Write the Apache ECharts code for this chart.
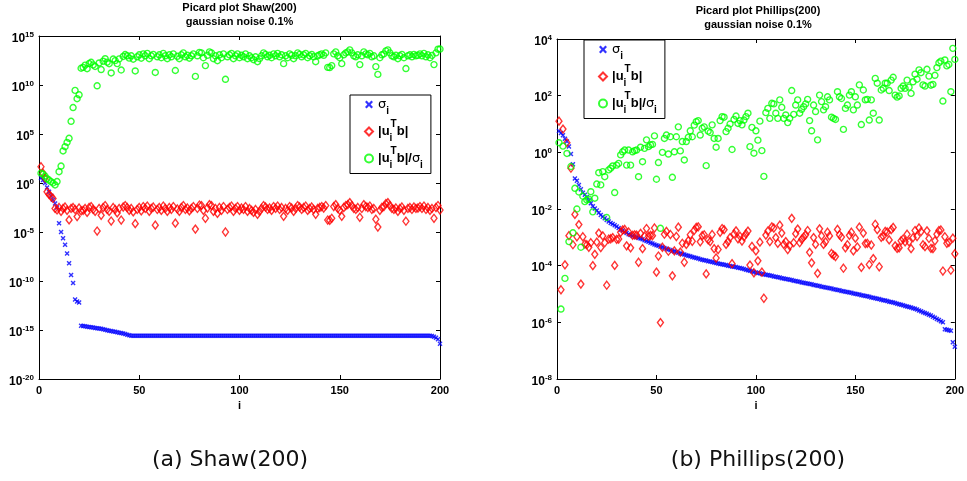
<!DOCTYPE html>
<html><head><meta charset="utf-8">
<script src="https://cdn.jsdelivr.net/npm/echarts@6/dist/echarts.min.js"></script>
<style>html,body{margin:0;padding:0;background:#fff}#c{width:967px;height:481px}</style>
</head><body><div id="c"></div><script>
// ---- data (log10 of the plotted values, index i = 1..200) ----
const shawSigmaLog = [
0.5,0.3,0.0,-0.45,-0.9,-1.3,-1.7,-2.1,-2.5,-4.1,
-5.0,-5.65,-6.3,-7.2,-8.2,-9.4,-10.2,-11.9,-12.1,-12.2,
-14.56,-14.6,-14.63,-14.66,-14.69,-14.72,-14.75,-14.79,-14.82,-14.85,
-14.88,-14.93,-14.98,-15.03,-15.07,-15.11,-15.15,-15.19,-15.23,-15.27,
-15.31,-15.36,-15.41,-15.48,-15.54,-15.58,-15.58,-15.58,-15.58,-15.58,
-15.58,-15.58,-15.58,-15.58,-15.58,-15.58,-15.58,-15.58,-15.58,-15.58,
-15.58,-15.58,-15.58,-15.58,-15.58,-15.58,-15.58,-15.58,-15.58,-15.58,
-15.58,-15.58,-15.58,-15.58,-15.58,-15.58,-15.58,-15.58,-15.58,-15.58,
-15.58,-15.58,-15.58,-15.58,-15.58,-15.58,-15.58,-15.58,-15.58,-15.58,
-15.58,-15.58,-15.58,-15.58,-15.58,-15.58,-15.58,-15.58,-15.58,-15.58,
-15.58,-15.58,-15.58,-15.58,-15.58,-15.58,-15.58,-15.58,-15.58,-15.58,
-15.58,-15.58,-15.58,-15.58,-15.58,-15.58,-15.58,-15.58,-15.58,-15.58,
-15.58,-15.58,-15.58,-15.58,-15.58,-15.58,-15.58,-15.58,-15.58,-15.58,
-15.58,-15.58,-15.58,-15.58,-15.58,-15.58,-15.58,-15.58,-15.58,-15.58,
-15.58,-15.58,-15.58,-15.58,-15.58,-15.58,-15.58,-15.58,-15.58,-15.58,
-15.58,-15.58,-15.58,-15.58,-15.58,-15.58,-15.58,-15.58,-15.58,-15.58,
-15.58,-15.58,-15.58,-15.58,-15.58,-15.58,-15.58,-15.58,-15.58,-15.58,
-15.58,-15.58,-15.58,-15.58,-15.58,-15.58,-15.58,-15.58,-15.58,-15.58,
-15.58,-15.58,-15.58,-15.58,-15.58,-15.58,-15.58,-15.58,-15.58,-15.58,
-15.58,-15.58,-15.58,-15.58,-15.58,-15.62,-15.68,-15.78,-15.95,-16.4
];
const shawUtbLog = [
1.66,1.0,0.5,-0.9,-1.15,-1.4,-1.57,-2.6,-2.75,-2.5,
-2.9,-2.6,-2.45,-2.8,-3.77,-2.6,-2.5,-2.7,-3.43,-2.55,
-2.85,-2.8,-2.6,-3.0,-2.5,-2.4,-2.7,-2.9,-4.9,-2.6,
-3.3,-2.5,-2.3,-2.7,-2.9,-3.88,-2.5,-2.7,-3.05,-2.6,
-3.78,-2.45,-2.3,-2.5,-2.8,-2.6,-2.95,-4.15,-2.7,-2.5,
-2.85,-2.4,-2.6,-2.35,-2.9,-2.6,-2.45,-4.3,-2.7,-2.5,
-2.8,-2.35,-2.6,-2.9,-2.5,-2.7,-2.4,-4.1,-2.65,-2.9,
-2.5,-2.3,-2.7,-2.55,-2.85,-2.6,-2.4,-4.7,-2.6,-2.25,
-2.3,-2.8,-3.6,-2.55,-2.2,-2.3,-2.9,-2.6,-3.1,-2.5,
-2.8,-2.4,-5.0,-2.7,-2.5,-2.35,-2.9,-2.6,-2.4,-2.8,
-2.55,-2.7,-2.4,-2.9,-2.6,-2.8,-3.0,-2.7,-3.2,-2.9,
-2.6,-2.3,-2.45,-2.7,-2.55,-2.8,-2.4,-2.6,-2.35,-2.7,
-2.5,-3.4,-2.6,-2.8,-2.4,-2.55,-2.9,-2.6,-2.3,-2.45,
-2.7,-2.5,-2.35,-2.8,-2.6,-2.45,-2.7,-3.2,-2.6,-2.5,
-2.4,-2.55,-2.3,-3.78,-3.8,-3.6,-2.4,-2.2,-2.6,-2.8,
-3.4,-2.5,-2.3,-2.2,-2.0,-2.3,-2.6,-2.7,-2.5,-3.5,
-2.6,-2.2,-2.4,-2.5,-2.35,-2.7,-2.6,-3.7,-4.5,-2.8,
-2.5,-2.4,-2.1,-2.0,-2.3,-2.6,-2.7,-2.55,-2.9,-2.6,
-2.45,-2.8,-3.9,-2.6,-2.5,-2.7,-2.45,-2.6,-2.55,-2.4,
-2.6,-2.35,-2.7,-2.5,-2.8,-2.6,-3.6,-2.5,-2.3,-2.76
];
const shawRatioLog = [
1.0,0.9,0.7,0.45,0.3,0.14,0.0,-0.2,0.15,1.15,
1.73,3.27,3.7,4.15,4.56,6.3,7.7,9.45,8.6,9.0,
11.71,11.8,12.03,11.66,12.19,12.32,12.05,11.89,9.92,12.25,
11.58,12.43,12.68,12.33,12.17,11.23,12.65,12.49,12.18,12.67,
11.53,12.91,13.11,12.98,12.74,12.98,12.63,11.43,12.88,13.08,
12.73,13.18,12.98,13.23,12.68,12.98,13.13,11.28,12.88,13.08,
12.78,13.23,12.98,12.68,13.08,12.88,13.18,11.48,12.93,12.68,
13.08,13.28,12.88,13.03,12.73,12.98,13.18,10.88,12.98,13.33,
13.28,12.78,11.98,13.03,13.38,13.28,12.68,12.98,12.48,13.08,
12.78,13.18,10.58,12.88,13.08,13.23,12.68,12.98,13.18,12.78,
13.03,12.88,13.18,12.68,12.98,12.78,12.58,12.88,12.38,12.68,
12.98,13.28,13.13,12.88,13.03,12.78,13.18,12.98,13.23,12.88,
13.08,12.18,12.98,12.78,13.18,13.03,12.68,12.98,13.28,13.13,
12.88,13.08,13.23,12.78,12.98,13.13,12.88,12.38,12.98,13.08,
13.18,13.03,13.28,11.8,11.78,11.98,13.18,13.38,12.98,12.78,
12.18,13.08,13.28,13.38,13.58,13.28,12.98,12.88,13.08,12.08,
12.98,13.38,13.18,13.08,13.23,12.88,12.98,11.88,11.08,12.78,
13.08,13.18,13.48,13.58,13.28,12.98,12.88,13.03,12.68,12.98,
13.13,12.78,11.68,12.98,13.08,12.88,13.13,12.98,13.03,13.18,
12.98,13.23,12.88,13.08,12.78,13.02,12.08,13.28,13.65,13.67
];
const phillipsSigmaLog = [
0.75,0.68,0.6,0.48,0.38,0.21,-0.06,-0.42,-0.92,-1.0,
-1.15,-1.3,-1.43,-1.5,-1.58,-1.7,-1.8,-1.9,-1.98,-2.05,
-2.13,-2.21,-2.27,-2.33,-2.39,-2.44,-2.49,-2.53,-2.57,-2.62,
-2.67,-2.73,-2.76,-2.8,-2.85,-2.89,-2.92,-2.95,-2.97,-3.0,
-3.02,-3.04,-3.07,-3.1,-3.13,-3.16,-3.19,-3.22,-3.25,-3.28,
-3.3,-3.33,-3.35,-3.38,-3.4,-3.43,-3.45,-3.48,-3.5,-3.52,
-3.54,-3.57,-3.59,-3.61,-3.63,-3.65,-3.67,-3.69,-3.71,-3.73,
-3.75,-3.77,-3.79,-3.81,-3.82,-3.84,-3.85,-3.87,-3.89,-3.91,
-3.92,-3.94,-3.95,-3.97,-3.98,-4.0,-4.01,-4.03,-4.04,-4.05,
-4.07,-4.08,-4.1,-4.12,-4.14,-4.16,-4.18,-4.2,-4.22,-4.24,
-4.26,-4.27,-4.29,-4.3,-4.32,-4.33,-4.35,-4.36,-4.38,-4.39,
-4.41,-4.42,-4.44,-4.45,-4.47,-4.48,-4.5,-4.51,-4.53,-4.54,
-4.56,-4.57,-4.59,-4.6,-4.62,-4.63,-4.65,-4.66,-4.68,-4.69,
-4.71,-4.72,-4.74,-4.75,-4.77,-4.78,-4.8,-4.81,-4.83,-4.84,
-4.86,-4.87,-4.89,-4.9,-4.92,-4.93,-4.95,-4.96,-4.98,-4.99,
-5.01,-5.02,-5.04,-5.05,-5.07,-5.08,-5.1,-5.12,-5.13,-5.15,
-5.17,-5.18,-5.2,-5.22,-5.23,-5.25,-5.27,-5.28,-5.3,-5.32,
-5.34,-5.36,-5.38,-5.4,-5.42,-5.44,-5.46,-5.48,-5.5,-5.52,
-5.55,-5.58,-5.61,-5.64,-5.67,-5.7,-5.73,-5.76,-5.8,-5.84,
-5.88,-5.92,-5.96,-6.0,-6.24,-6.26,-6.28,-6.3,-6.7,-6.86
];
const phillipsUtbLog = [
1.1,-4.85,0.82,-3.97,0.34,-2.94,-0.56,-3.26,-2.19,-2.98,
-2.55,-4.65,-2.98,-3.24,-3.26,-3.35,-3.19,-4.0,-3.6,-3.17,
-2.85,-3.36,-2.95,-3.19,-4.69,-3.06,-3.05,-3.01,-3.99,-3.07,
-3.06,-2.82,-2.74,-2.72,-3.3,-2.81,-3.37,-2.93,-2.91,-2.92,
-3.88,-2.86,-3.4,-2.96,-2.69,-2.96,-2.93,-2.94,-2.67,-4.23,
-3.66,-6.01,-3.35,-2.89,-2.79,-3.49,-2.9,-4.36,-3.48,-2.97,
-2.64,-3.52,-3.21,-3.88,-3.25,-3.12,-2.91,-3.14,-2.75,-2.65,
-2.63,-3.16,-2.94,-2.91,-4.29,-3.09,-3.15,-2.9,-3.4,-3.73,
-3.43,-2.82,-2.69,-2.73,-3.25,-3.15,-3.01,-3.93,-2.88,-2.77,
-3.05,-2.96,-3.13,-2.98,-2.88,-2.78,-3.98,-3.32,-4.25,-3.48,
-3.83,-3.17,-4.23,-5.15,-2.92,-2.78,-3.15,-2.63,-2.67,-3.01,
-3.21,-2.57,-2.85,-3.25,-3.15,-3.43,-3.3,-2.33,-3.19,-2.87,
-2.71,-3.19,-3.07,-2.99,-2.91,-2.76,-3.53,-3.9,-3.01,-3.25,
-4.27,-2.7,-2.95,-3.25,-3.16,-2.82,-2.95,-3.57,-3.63,-3.68,
-2.72,-2.91,-2.99,-4.09,-3.37,-3.26,-2.93,-2.82,-3.48,-3.03,
-3.34,-2.64,-4.06,-2.85,-3.22,-3.21,-3.96,-3.27,-3.75,-2.54,
-2.73,-4.04,-3.0,-2.96,-2.79,-2.81,-3.09,-2.73,-2.65,-3.3,
-3.39,-3.37,-3.12,-3.06,-3.16,-2.89,-3.16,-3.4,-3.01,-2.76,
-2.97,-2.67,-2.8,-3.26,-3.33,-2.77,-3.04,-3.39,-3.4,-3.12,
-2.89,-2.76,-2.74,-4.19,-2.98,-3.21,-3.18,-4.16,-3.03,-3.58
];
const phillipsRatioLog = [
0.34,-5.53,0.22,-4.45,-0.04,-3.15,-0.5,-2.84,-1.27,-2.0,
-1.4,-3.35,-1.55,-1.74,-1.68,-1.65,-1.39,-2.1,-1.62,-1.12,
-0.72,-1.15,-0.68,-0.86,-2.3,-0.62,-0.56,-0.48,-1.42,-0.45,
-0.39,-0.09,0.02,0.08,-0.45,0.08,-0.45,0.02,0.06,0.08,
-0.86,0.18,-0.33,0.14,0.44,0.2,0.26,0.28,0.58,-0.95,
-0.36,-2.68,0.0,0.49,0.61,-0.06,0.55,-0.88,0.02,0.55,
0.9,0.05,0.38,-0.27,0.38,0.53,0.76,0.55,0.96,1.08,
1.12,0.61,0.85,0.9,-0.47,0.75,0.7,0.97,0.49,0.18,
0.49,1.12,1.26,1.24,0.73,0.85,1.0,0.1,1.16,1.28,
1.02,1.12,0.97,1.14,1.26,1.38,0.2,0.88,-0.03,0.76,
0.43,1.1,0.06,-0.85,1.4,1.55,1.2,1.73,1.71,1.38,
1.2,1.85,1.59,1.2,1.32,1.05,1.2,2.18,1.34,1.67,
1.85,1.38,1.52,1.61,1.71,1.87,1.12,0.76,1.67,1.44,
0.44,2.02,1.79,1.5,1.61,1.96,1.85,1.24,1.2,1.16,
2.14,1.96,1.9,0.81,1.55,1.67,2.02,2.14,1.5,1.96,
1.67,2.38,0.98,2.2,1.85,1.87,1.14,1.85,1.38,2.61,
2.44,1.14,2.2,2.26,2.44,2.44,2.18,2.55,2.65,2.02,
1.95,1.99,2.26,2.34,2.26,2.55,2.3,2.08,2.49,2.76,
2.58,2.91,2.81,2.38,2.34,2.93,2.69,2.37,2.4,2.72,
2.99,3.16,3.22,1.81,3.26,3.05,3.1,2.14,3.67,3.28
];
const xTicks = [0, 50, 100, 150, 200];
const titles = ['Picard plot Shaw(200)\ngaussian noise 0.1%', 'Picard plot Phillips(200)\ngaussian noise 0.1%'];
const captions = ['(a) Shaw(200)', '(b) Phillips(200)'];
const seriesNames = ['sigma', 'utb', 'ratio'];

// ---- chart ----
const FONT = 'Liberation Sans';
const toPts = arr => arr.map((v, k) => [k + 1, Math.pow(10, v)]);
const xMark = 'path://M0,2L2,0L5,3L8,0L10,2L7,5L10,8L8,10L5,7L2,10L0,8L3,5Z';
const styles = {
  sigma: {symbol: xMark, symbolSize: 5, itemStyle: {color: '#0000ff'}},
  utb: {symbol: 'diamond', symbolSize: [6, 8], itemStyle: {color: 'rgba(255,255,255,0)', borderColor: '#ff0000', borderWidth: 1.4}},
  ratio: {symbol: 'circle', symbolSize: 6, itemStyle: {color: 'rgba(255,255,255,0)', borderColor: '#00ff00', borderWidth: 1.4}}
};
const grids = [
  {left: 39, top: 36, width: 401, height: 343},
  {left: 557, top: 39, width: 402, height: 340}
];
const yRanges = [{min: 1e-20, max: 1e15, interval: 5}, {min: 1e-8, max: 1e4, interval: 2}];
const tickStyle = {show: true, inside: true, length: 4, lineStyle: {color: '#000', width: 1}};
const lineStyle = {show: true, onZero: false, lineStyle: {color: '#000', width: 1}};
const xAxes = [], yAxes = [];
[0, 1].forEach(g => {
  xAxes.push({type: 'value', gridIndex: g, min: xTicks[0], max: xTicks[xTicks.length - 1], interval: xTicks[1] - xTicks[0],
    axisLine: lineStyle, axisTick: tickStyle, splitLine: {show: false},
    axisLabel: {color: '#000', fontFamily: FONT, fontWeight: 'bold', fontSize: 11, margin: 6},
    name: 'i', nameLocation: 'middle', nameGap: 17,
    nameTextStyle: {color: '#000', fontFamily: FONT, fontWeight: 'bold', fontSize: 11}});
  xAxes.push({type: 'value', gridIndex: g, position: 'top', min: xTicks[0], max: xTicks[xTicks.length - 1], interval: xTicks[1] - xTicks[0],
    axisLine: lineStyle, axisTick: tickStyle, splitLine: {show: false}, axisLabel: {show: false}});
  const r = yRanges[g];
  yAxes.push({type: 'log', logBase: 10, gridIndex: g, min: r.min, max: r.max, interval: r.interval,
    axisLine: lineStyle, axisTick: tickStyle, splitLine: {show: false}, minorTick: {show: false},
    axisLabel: {margin: 5, padding: [3, 0, 0, 0], formatter: v => '{b|10}{e|' + Math.round(Math.log10(v)) + '}',
      rich: {b: {color: '#000', fontFamily: FONT, fontWeight: 'bold', fontSize: 12, lineHeight: 14, verticalAlign: 'bottom'},
             e: {color: '#000', fontFamily: FONT, fontWeight: 'bold', fontSize: 8, lineHeight: 3, verticalAlign: 'top'}}}});
  yAxes.push({type: 'log', logBase: 10, gridIndex: g, position: 'right', min: r.min, max: r.max, interval: r.interval,
    axisLine: lineStyle, axisTick: tickStyle, splitLine: {show: false}, axisLabel: {show: false}});
});
const sets = [[shawSigmaLog, shawUtbLog, shawRatioLog], [phillipsSigmaLog, phillipsUtbLog, phillipsRatioLog]];
const series = [];
sets.forEach((set, g) => set.forEach((arr, k) => {
  const nm = seriesNames[k];
  series.push(Object.assign({name: nm, type: 'scatter', xAxisIndex: g * 2, yAxisIndex: g * 2, data: toPts(arr), clip: false, animation: false}, styles[nm]));
}));
const legendRich = {
  n: {color: '#000', fontFamily: FONT, fontWeight: 'bold', fontSize: 13, lineHeight: 24, verticalAlign: 'middle'},
  g: {color: '#000', fontFamily: 'DejaVu Sans', fontSize: 13, lineHeight: 24, verticalAlign: 'middle'},
  s: {color: '#000', fontFamily: FONT, fontWeight: 'bold', fontSize: 10, lineHeight: 9, verticalAlign: 'bottom', width: 1},
  t: {color: '#000', fontFamily: FONT, fontWeight: 'bold', fontSize: 10, lineHeight: 9, verticalAlign: 'top'},
  s2: {color: '#000', fontFamily: FONT, fontWeight: 'bold', fontSize: 10, lineHeight: 9, verticalAlign: 'bottom'}
};
const legendText = {
  sigma: '{g|σ}{s2|i}',
  utb: '{n||u}{s|i}{t|T}{n|b|}',
  ratio: '{n||u}{s|i}{t|T}{n|b|/}{g|σ}{s2|i}'
};
const mkLegend = (left, top) => ({
  left: left, top: top, orient: 'vertical', data: seriesNames, itemGap: 3, itemWidth: 8, itemHeight: 8,
  padding: [3, 8, 3, 14], borderColor: '#000', borderWidth: 1, backgroundColor: '#fff', selectedMode: false,
  formatter: n => legendText[n], textStyle: {rich: legendRich}
});
const option = {
  animation: false,
  backgroundColor: '#fff',
  title: [
    {text: titles[0], left: 239.5, top: 1, textAlign: 'center', padding: 0, textStyle: {fontFamily: FONT, fontWeight: 'bold', fontSize: 11, lineHeight: 14, color: '#000'}},
    {text: titles[1], left: 758, top: 4, textAlign: 'center', padding: 0, textStyle: {fontFamily: FONT, fontWeight: 'bold', fontSize: 11, lineHeight: 14, color: '#000'}},
    {text: captions[0], left: 230, top: 449, textAlign: 'center', padding: 0, textStyle: {fontFamily: 'DejaVu Sans', fontWeight: 'normal', fontSize: 22, color: '#111'}},
    {text: captions[1], left: 758, top: 449, textAlign: 'center', padding: 0, textStyle: {fontFamily: 'DejaVu Sans', fontWeight: 'normal', fontSize: 22, color: '#111'}}
  ],
  legend: [mkLegend(350, 95), mkLegend(584, 40)],
  grid: grids,
  xAxis: xAxes,
  yAxis: yAxes,
  series: series
};
const chart = echarts.init(document.getElementById('c'), null, {renderer: 'canvas'});
chart.setOption(option);
</script></body></html>
